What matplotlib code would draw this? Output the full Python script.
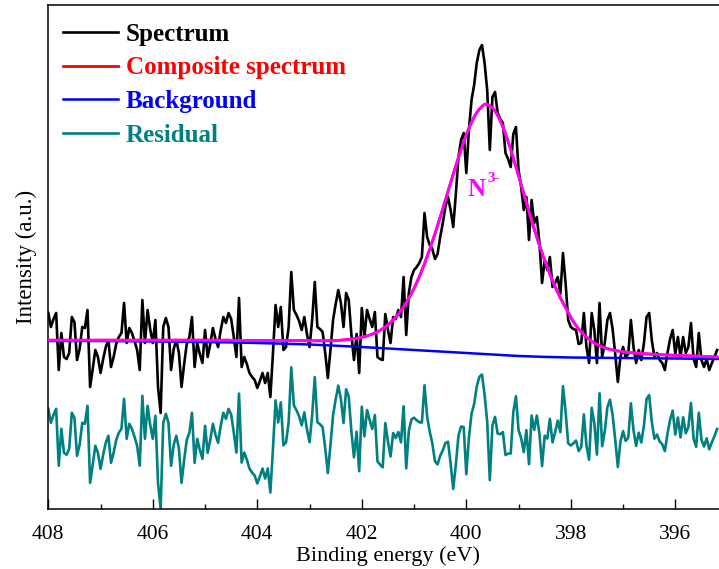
import numpy as np
import matplotlib.pyplot as plt
from matplotlib.ticker import MultipleLocator

plt.rcParams['font.family'] = ['Liberation Serif', 'DejaVu Serif']

# binding energy grid (eV): 0.05 eV steps from 408.00 down to 395.20
energy = np.round(408.0 - 0.05 * np.arange(257), 2)

# N 1s raw spectrum (a.u.)
spectrum = [
    196, 182, 190, 196, 139, 176, 152, 150, 156, 192,
    187, 149, 160, 182, 181, 199, 122, 140, 159, 152,
    136, 150, 162, 169, 142, 152, 165, 172, 176, 206,
    166, 181, 176, 168, 159, 139, 209, 166, 199, 180,
    166, 189, 122, 96, 182, 191, 182, 139, 160, 169,
    156, 122, 145, 165, 172, 192, 142, 166, 155, 146,
    179, 152, 165, 181, 170, 162, 179, 192, 186, 196,
    190, 172, 152, 211, 142, 152, 145, 136, 132, 129,
    121, 128, 136, 126, 136, 112, 156, 204, 182, 202,
    159, 162, 182, 237, 199, 194, 188, 179, 192, 175,
    162, 189, 227, 182, 180, 177, 156, 131, 159, 189,
    205, 219, 206, 182, 216, 209, 175, 149, 175, 136,
    201, 172, 199, 190, 182, 197, 152, 150, 149, 195,
    179, 166, 192, 190, 199, 192, 232, 174, 216, 232,
    239, 242, 246, 252, 296, 272, 264, 260, 250, 255,
    272, 286, 302, 312, 299, 282, 315, 352, 369, 376,
    336, 379, 409, 424, 446, 459, 464, 446, 419, 359,
    412, 417, 396, 390, 386, 356, 350, 342, 375, 382,
    339, 322, 299, 312, 269, 309, 286, 292, 266, 226,
    249, 239, 252, 222, 226, 232, 215, 256, 226, 189,
    182, 180, 179, 165, 166, 196, 162, 146, 196, 179,
    146, 206, 152, 166, 189, 196, 180, 155, 127, 152,
    162, 152, 155, 189, 162, 146, 159, 149, 166, 192,
    196, 169, 152, 156, 149, 146, 139, 156, 170, 179,
    155, 172, 152, 172, 156, 162, 186, 150, 142, 176,
    149, 142, 150, 139, 146, 152, 159,
]

# fitted envelope (single N3- component + background)
composite = [
    168.8, 168.8, 168.8, 168.8, 168.8, 168.8, 168.8, 168.8, 168.8, 168.8,
    168.8, 168.8, 168.8, 168.8, 168.8, 168.8, 168.8, 168.8, 168.8, 168.8,
    168.8, 168.8, 168.8, 168.8, 168.8, 168.8, 168.8, 168.8, 168.8, 168.8,
    168.8, 168.8, 168.8, 168.8, 168.8, 168.8, 168.8, 168.8, 168.8, 168.8,
    168.8, 168.8, 168.8, 168.8, 168.8, 168.8, 168.8, 168.8, 168.8, 168.8,
    168.8, 168.8, 168.8, 168.8, 168.8, 168.8, 168.8, 168.8, 168.8, 168.8,
    168.8, 168.8, 168.8, 168.8, 168.8, 168.8, 168.8, 168.8, 168.8, 168.8,
    168.6, 168.6, 168.6, 168.6, 168.6, 168.6, 168.6, 168.6, 168.6, 168.6,
    168.5, 168.5, 168.5, 168.5, 168.5, 168.5, 168.4, 168.4, 168.4, 168.4,
    168.3, 168.3, 168.3, 168.3, 168.3, 168.3, 168.3, 168.3, 168.3, 168.3,
    168.2, 168.2, 168.2, 168.2, 168.2, 168.2, 168.1, 168.1, 168.2, 168.3,
    168.4, 168.6, 168.8, 169.0, 169.3, 169.6, 169.9, 170.3, 170.7, 171.2,
    171.7, 172.3, 173.0, 173.9, 174.9, 176.0, 177.3, 178.7, 180.3, 182.1,
    184.2, 186.5, 189.1, 191.9, 195.0, 198.4, 202.2, 206.3, 210.8, 215.6,
    220.7, 226.3, 232.2, 238.6, 245.3, 252.4, 259.7, 267.4, 275.2, 283.4,
    291.8, 300.4, 309.0, 317.7, 326.4, 335.0, 343.4, 351.6, 359.5, 367.0,
    374.2, 380.8, 386.8, 392.0, 396.4, 399.8, 402.5, 404.8, 404.7, 403.2,
    401.3, 397.9, 393.6, 388.2, 382.1, 375.1, 367.6, 359.5, 351.0, 342.2,
    333.2, 324.2, 315.1, 306.1, 297.2, 288.5, 279.9, 271.6, 263.6, 256.0,
    248.7, 241.6, 234.8, 228.4, 222.3, 216.6, 211.2, 206.2, 201.5, 196.3,
    191.5, 187.3, 183.5, 180.1, 177.0, 174.4, 172.0, 169.8, 167.8, 166.1,
    164.6, 163.3, 162.2, 161.2, 160.4, 159.7, 159.0, 158.5, 158.0, 157.6,
    157.2, 156.9, 156.6, 156.3, 156.1, 155.9, 155.7, 155.5, 155.3, 155.1,
    155.0, 154.8, 154.7, 154.5, 154.4, 154.2, 154.1, 154.0, 153.9, 153.7,
    153.6, 153.5, 153.4, 153.3, 153.2, 153.1, 153.0, 152.9, 152.8, 152.7,
    152.6, 152.5, 152.4, 152.3, 152.2, 152.1, 152.0,
]

# Shirley-type background
bg_energy = [408, 407.5, 407, 406.5, 406, 405.5, 405, 404.5, 404, 403.5, 403, 402.5,
             402, 401.5, 401, 400.5, 400, 399.5, 399, 398.5, 398, 397.5, 397, 396.5,
             396, 395.5, 395]
background = [168, 168, 168, 167.8, 167.5, 167.3, 167, 166.6, 166, 165.3, 164.5, 163.3,
              162, 160.5, 159, 157.5, 156, 154.5, 153, 152.1, 151.5, 151.2, 151, 150.7,
              150.5, 150.2, 150]

residual_offset = 73
residual = np.array(spectrum) - np.array(composite) + residual_offset

fig = plt.figure(figsize=(7.19, 5.69), dpi=100)
ax = fig.add_axes([48.3 / 719, 60 / 569, 679.25 / 719, 504 / 569])

l1, = ax.plot(energy, spectrum, color='black', lw=1.9, label='Spectrum', zorder=2)
l4, = ax.plot(energy, residual, color='#008080', lw=1.9, label='Residual', zorder=2)
l3, = ax.plot(bg_energy, background, color='blue', lw=1.8, label='Background', zorder=3)
l2, = ax.plot(energy, composite, color='red', lw=2.0, label='Composite spectrum', zorder=4)
ax.plot(energy, composite, color='#FF00FF', lw=2.0, zorder=5)

ax.text(399.80, 320, 'N', color='#FF00FF', fontsize=18, fontweight='bold',
        ha='center', va='center')
ax.text(399.48, 331, '3-', color='#FF00FF', fontsize=11, fontweight='bold',
        ha='center', va='center')

ax.set_xlim(408, 395)
ax.set_ylim(0, 504)
ax.set_yticks([])
ax.xaxis.set_major_locator(MultipleLocator(2))
ax.xaxis.set_minor_locator(MultipleLocator(1))
ax.tick_params(axis='x', which='major', direction='in', length=7, width=1, pad=11.5, labelsize=15.5)
ax.tick_params(axis='x', which='minor', direction='in', length=3.5, width=1)
for s in ax.spines.values():
    s.set_linewidth(1.1)

ax.set_xlabel('Binding energy (eV)', fontsize=16, labelpad=1.5)
ax.set_ylabel('Intensity (a.u.)', fontsize=16.5, labelpad=8)

ax.legend(handles=[l1, l2, l3, l4], loc='upper left',
          bbox_to_anchor=(63 / 719, 1 - 22.5 / 569), bbox_transform=fig.transFigure,
          frameon=False, borderpad=0, borderaxespad=0, handlelength=2.2,
          handletextpad=0.3, labelspacing=0.43, labelcolor='linecolor',
          prop={'weight': 'bold', 'size': 18})

fig.savefig('out.png', dpi=100)
